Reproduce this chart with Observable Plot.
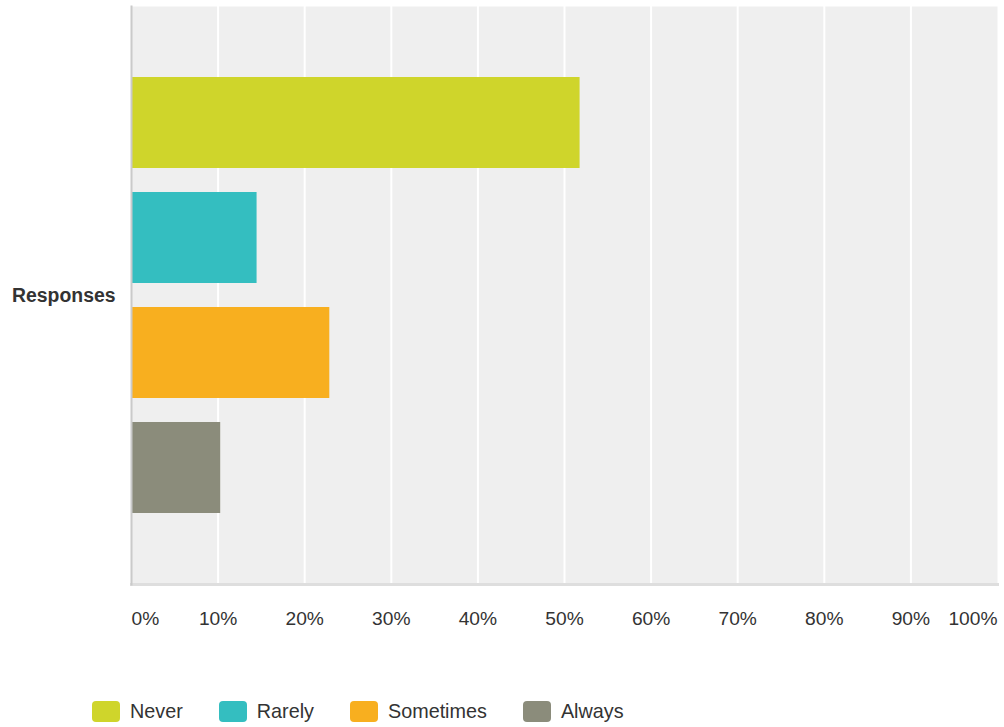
<!DOCTYPE html>
<html>
<head>
<meta charset="utf-8">
<script src="https://cdn.jsdelivr.net/npm/d3@7"></script>
<script src="https://cdn.jsdelivr.net/npm/@observablehq/plot@0.6"></script>
<style>
  html, body { margin: 0; padding: 0; background: #fff; }
  body { width: 1004px; height: 727px; overflow: hidden; font-family: "Liberation Sans", Arial, sans-serif; }
  #legend { display: flex; align-items: center; position: absolute; left: 92px; top: 700px; font-size: 19.8px; color: #333; }
  .item { display: flex; align-items: center; margin-right: 36px; }
  .sw { width: 28px; height: 21px; border-radius: 4px; margin-right: 10px; }
</style>
</head>
<body>
<div id="chart"></div>
<div id="legend"></div>
<script>
const groupLabel = "Responses";
const categories = ["Never", "Rarely", "Sometimes", "Always"];
const values = [51.8, 14.5, 22.9, 10.3];
const colors = ["#cfd52b", "#34bec0", "#f8af1f", "#8b8c7b"];
const tickValues = [0, 10, 20, 30, 40, 50, 60, 70, 80, 90, 100];
const tickLabels = ["0%", "10%", "20%", "30%", "40%", "50%", "60%", "70%", "80%", "90%", "100%"];

const data = categories.map((c, i) => ({group: groupLabel, answer: c, value: values[i]}));
const fmt = d => tickLabels[tickValues.indexOf(d)];

const chart = Plot.plot({
  width: 1004,
  height: 650,
  marginTop: 6,
  marginBottom: 66,
  marginLeft: 131,
  marginRight: 7,
  style: {fontFamily: "'Liberation Sans', Arial, sans-serif", fontSize: "19px", color: "#333", background: "#fff"},
  x: {domain: [0, 100]},
  y: {domain: categories, axis: null, paddingInner: 0.213, paddingOuter: 0.6},
  fy: {domain: [groupLabel], padding: 0},
  color: {domain: categories, range: colors},
  marks: [
    Plot.frame({fill: "#efefef", stroke: null}),
    Plot.gridX(tickValues.slice(1, -1), {stroke: "#fff", strokeOpacity: 1, strokeWidth: 2}),
    Plot.barX(data, {fy: "group", y: "answer", x: "value", fill: "answer"}),
    Plot.frame({anchor: "bottom", stroke: "#dedede", strokeWidth: 3}),
    Plot.frame({anchor: "left", stroke: "#cacaca", strokeWidth: 2}),
    Plot.axisX(tickValues.slice(1, -1), {tickSize: 0, tickPadding: 27, tickFormat: fmt, fill: "#333", fontSize: 19.2, label: null}),
    Plot.axisX([tickValues[0]], {tickSize: 0, tickPadding: 27, tickFormat: fmt, textAnchor: "start", fill: "#333", fontSize: 19.2, label: null}),
    Plot.axisX([tickValues[tickValues.length - 1]], {tickSize: 0, tickPadding: 27, tickFormat: fmt, textAnchor: "end", fill: "#333", fontSize: 19.2, label: null}),
    Plot.axisFy({anchor: "left", tickSize: 0, tickPadding: 16, fontWeight: "bold", fontSize: 19.4, fill: "#333", label: null})
  ]
});
document.getElementById("chart").appendChild(chart);

const legend = document.getElementById("legend");
categories.forEach((c, i) => {
  const item = document.createElement("div");
  item.className = "item";
  const sw = document.createElement("div");
  sw.className = "sw";
  sw.style.background = colors[i];
  const t = document.createElement("span");
  t.textContent = c;
  item.appendChild(sw);
  item.appendChild(t);
  legend.appendChild(item);
});
</script>
</body>
</html>
